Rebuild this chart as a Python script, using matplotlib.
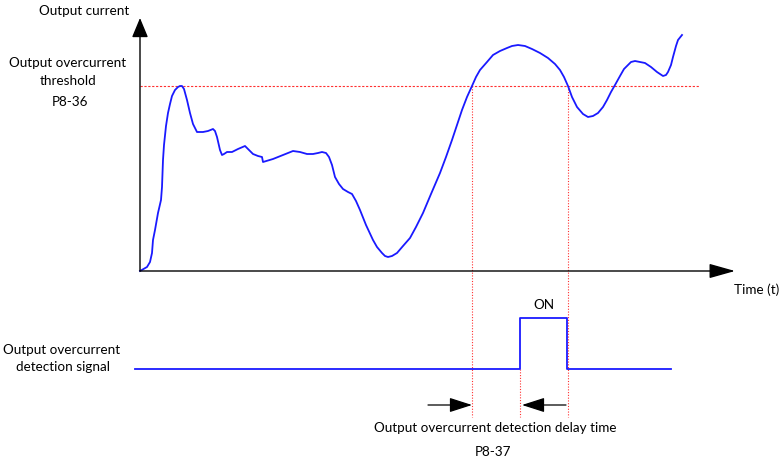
import matplotlib
matplotlib.use("Agg")
import matplotlib.pyplot as plt

# Output current curve (time and current in drawing units, origin at axes corner)
time_pts = [0, 7, 10, 12, 13, 15, 18, 21, 22, 23, 24, 26, 28, 30, 32, 35, 38, 40,
            42, 44, 47, 50, 53, 57, 63, 68, 73, 75, 77, 80, 82, 84, 87, 92, 98,
            105, 109, 113, 118, 122, 123, 133, 143, 153, 160, 167, 173, 178, 182,
            186, 189, 192, 195, 199, 203, 208, 212, 216, 220, 226, 233, 237, 242,
            245, 248, 252, 257, 263, 270, 276, 283, 291, 300, 306, 312, 317, 322,
            327, 332, 336, 340, 347, 353, 360, 367, 372, 378, 385, 392, 400, 408,
            415, 420, 424, 428, 432, 437, 443, 448, 453, 458, 463, 467, 471, 475,
            480, 484, 487, 491, 495, 500, 505, 511, 517, 523, 526, 528, 531, 533,
            536, 538, 542]
current_pts = [0, 4, 9, 18, 31, 41, 58, 71, 84, 111, 126, 145, 158, 167, 175, 181,
               184, 185, 185, 182, 171, 158, 147, 139, 139, 140, 142, 140, 134, 121,
               116, 117, 119, 119, 122, 125, 121, 117, 115, 114, 109, 112, 116, 120,
               119, 117, 117, 118, 119, 118, 114, 106, 94, 87, 82, 79, 77, 70, 61,
               46, 31, 24, 18, 15, 14, 15, 18, 25, 33, 44, 58, 77, 98, 114, 131, 146,
               161, 174, 185, 194, 201, 209, 216, 220, 223, 225, 226, 225, 222, 218,
               213, 207, 201, 194, 185, 174, 164, 157, 154, 155, 158, 164, 171, 179,
               186, 195, 202, 205, 209, 210, 209, 208, 204, 199, 195, 196, 199, 206,
               214, 225, 231, 236]

threshold = 185
cross_on, cross_off = 332, 428       # threshold crossings
signal_on = 380                      # after detection delay
signal_t = [-5, signal_on, signal_on, cross_off - 1, cross_off - 1, 531]
signal_v = [-98, -98, -47, -47, -98, -98]

fig = plt.figure(figsize=(7.79, 4.61), dpi=100)
ax = fig.add_axes([0, 0, 1, 1])
ax.set_xlim(-140, 639)
ax.set_ylim(-190, 271)
ax.axis("off")
plt.rcParams["font.family"] = ["Lato", "DejaVu Sans"]
fs = 9.7
blue = "#1a1aff"
red = "#ff3030"

# axes with arrows
ax.annotate("", xy=(0, 253), xytext=(0, 0),
            arrowprops=dict(arrowstyle="-|>,head_length=1.2,head_width=0.5",
                            color="black", lw=1.0, shrinkA=0, shrinkB=0))
ax.annotate("", xy=(595, 0), xytext=(0, 0),
            arrowprops=dict(arrowstyle="-|>,head_length=1.6,head_width=0.45",
                            color="black", lw=1.0, shrinkA=0, shrinkB=0))

# threshold and crossing markers
ax.plot([0, 560], [threshold, threshold], color=red, lw=0.8, ls=(0, (2, 1.5)))
for t in (cross_on, cross_off):
    ax.plot([t, t], [threshold, -146], color=red, lw=0.8, ls=(0, (1, 1.5)))
ax.plot([signal_on, signal_on], [-98, -146], color=red, lw=0.8, ls=(0, (1, 1.5)))

ax.plot(time_pts, current_pts, color=blue, lw=1.3, solid_joinstyle="round")
ax.plot(signal_t, signal_v, color=blue, lw=1.3)

# delay time arrows
ax.annotate("", xy=(cross_on, -134), xytext=(cross_on - 44, -134),
            arrowprops=dict(arrowstyle="-|>,head_length=1.4,head_width=0.45",
                            color="black", lw=0.9, shrinkA=0, shrinkB=0))
ax.annotate("", xy=(signal_on + 2, -134), xytext=(signal_on + 46, -134),
            arrowprops=dict(arrowstyle="-|>,head_length=1.4,head_width=0.45",
                            color="black", lw=0.9, shrinkA=0, shrinkB=0))

ax.text(-56, 260, "Output current", fontsize=fs, ha="center", va="center")
ax.text(-72, 208, "Output overcurrent", fontsize=fs, ha="center", va="center")
ax.text(-72, 190, "threshold", fontsize=fs, ha="center", va="center")
ax.text(-70, 169, "P8-36", fontsize=fs, ha="center", va="center")
ax.text(617, -19, "Time (t)", fontsize=fs, ha="center", va="center")
ax.text(404, -34, "ON", fontsize=fs, ha="center", va="center")
ax.text(-78, -79, "Output overcurrent", fontsize=fs, ha="center", va="center")
ax.text(-77, -96, "detection signal", fontsize=fs, ha="center", va="center")
ax.text(355, -157, "Output overcurrent detection delay time", fontsize=fs,
        ha="center", va="center")
ax.text(353, -181, "P8-37", fontsize=fs, ha="center", va="center")

fig.savefig("out.png", dpi=100)
